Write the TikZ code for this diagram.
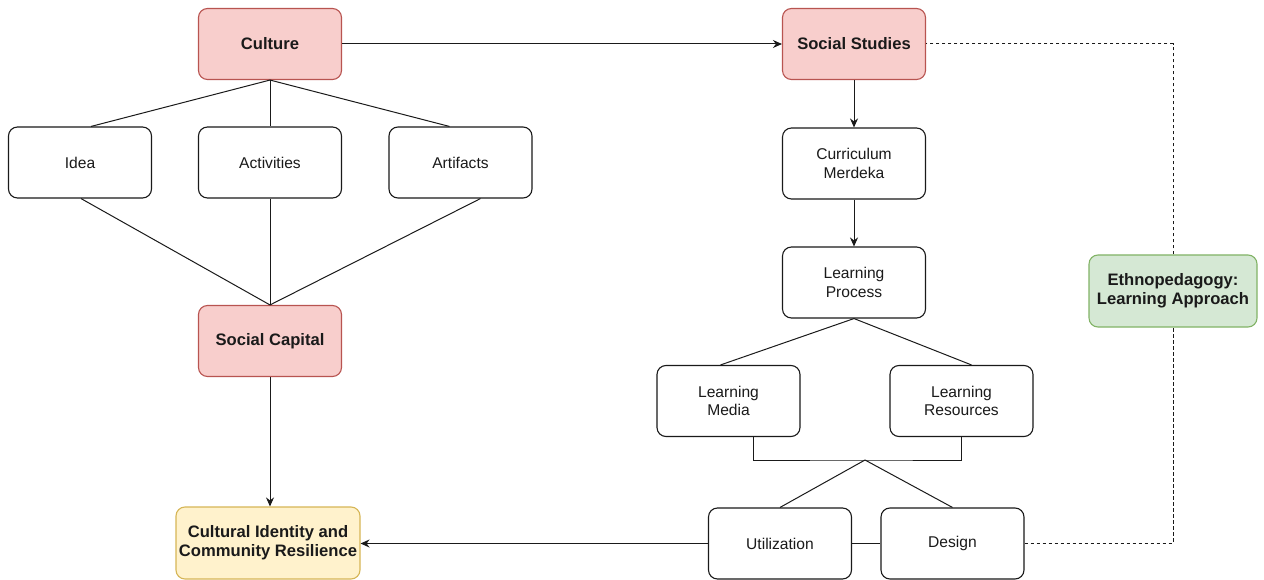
\documentclass[tikz,border=0pt]{standalone}
\usepackage{fontspec}
\setmainfont{Liberation Sans}
\usetikzlibrary{arrows.meta,calc}
\definecolor{redfill}{HTML}{F8CECC}
\definecolor{redline}{HTML}{B85450}
\definecolor{greenfill}{HTML}{D5E8D4}
\definecolor{greenline}{HTML}{82B366}
\definecolor{yellowfill}{HTML}{FFF2CC}
\definecolor{yellowline}{HTML}{D6B656}
\definecolor{ink}{HTML}{1A1A1A}
\begin{document}
\begin{tikzpicture}[x=1pt,y=-1pt,
  box/.style={draw=ink, line width=1.1pt, rounded corners=9pt, minimum width=143pt,
    minimum height=71pt, align=center, inner sep=2pt, fill=white, text=ink,
    font=\fontsize{15.6}{18.3}\selectfont},
  boldbox/.style={box, font=\bfseries\fontsize{16.6}{19}\selectfont},
  redbox/.style={boldbox, fill=redfill, draw=redline},
  greenbox/.style={boldbox, fill=greenfill, draw=greenline},
  yellowbox/.style={boldbox, fill=yellowfill, draw=yellowline},
  conn/.style={draw=ink, line width=1pt},
  arr/.style={conn, -{Stealth[length=9pt,width=8pt]}},
  dashconn/.style={draw=ink, line width=1pt, dash pattern=on 3.5pt off 2.5pt}]
\useasboundingbox (0,0) rectangle (1264,580);
\fill[white] (0,0) rectangle (1264,580);

% left column
\node[redbox] (culture) at (270,44) {Culture};
\node[box] (idea) at (80,162.5) {Idea};
\node[box] (activities) at (270,162.5) {Activities};
\node[box] (artifacts) at (460.5,162.5) {Artifacts};
\node[redbox] (capital) at (270,341) {Social Capital};
\node[yellowbox, minimum width=184pt, minimum height=72pt] (identity) at (268,543) {Cultural Identity and\\Community Resilience};

% right column
\node[redbox] (studies) at (854,44) {Social Studies};
\node[box] (curriculum) at (854,163.5) {Curriculum\\Merdeka};
\node[box] (process) at (854,282.5) {Learning\\Process};
\node[box] (media) at (728.5,401) {Learning\\Media};
\node[box] (resources) at (961.5,401) {Learning\\Resources};
\node[box] (util) at (780,543.5) {Utilization};
\node[box] (design) at (952.5,543.5) {Design};
\node[greenbox, minimum width=168pt, minimum height=72pt] (ethno) at (1173,291) {Ethnopedagogy:\\Learning Approach};

\coordinate (apex) at (865,460);

% culture tree
\draw[conn] (culture.south) -- ([xshift=11pt]idea.north);
\draw[conn] (culture.south) -- (activities.north);
\draw[conn] (culture.south) -- ([xshift=-11pt]artifacts.north);
\draw[conn] ([xshift=1pt]idea.south) -- (capital.north);
\draw[conn] (activities.south) -- (capital.north);
\draw[conn] ([xshift=20pt]artifacts.south) -- (capital.north);
\draw[arr] (capital.south) -- (capital.south |- identity.north);

\draw[arr] (culture.east) -- (studies.west);

% learning chain
\draw[arr] (studies.south) -- (curriculum.north);
\draw[arr] (curriculum.south) -- (process.north);
\draw[conn] (process.south) -- ([xshift=-8pt]media.north);
\draw[conn] (process.south) -- ([xshift=10pt]resources.north);
\draw[conn] ([xshift=25pt]media.south) |- (apex) -| (resources.south);
\draw[conn] (apex) -- (util.north);
\draw[conn] (apex) -- (design.north);
\draw[conn] (util.east) -- (design.west);
\draw[arr] (util.west) -- (identity.east |- util.west);

% dashed links
\draw[dashconn] (design.east) -| (ethno.south);
\draw[dashconn] (ethno.north) |- (studies.east);
\end{tikzpicture}
\end{document}
